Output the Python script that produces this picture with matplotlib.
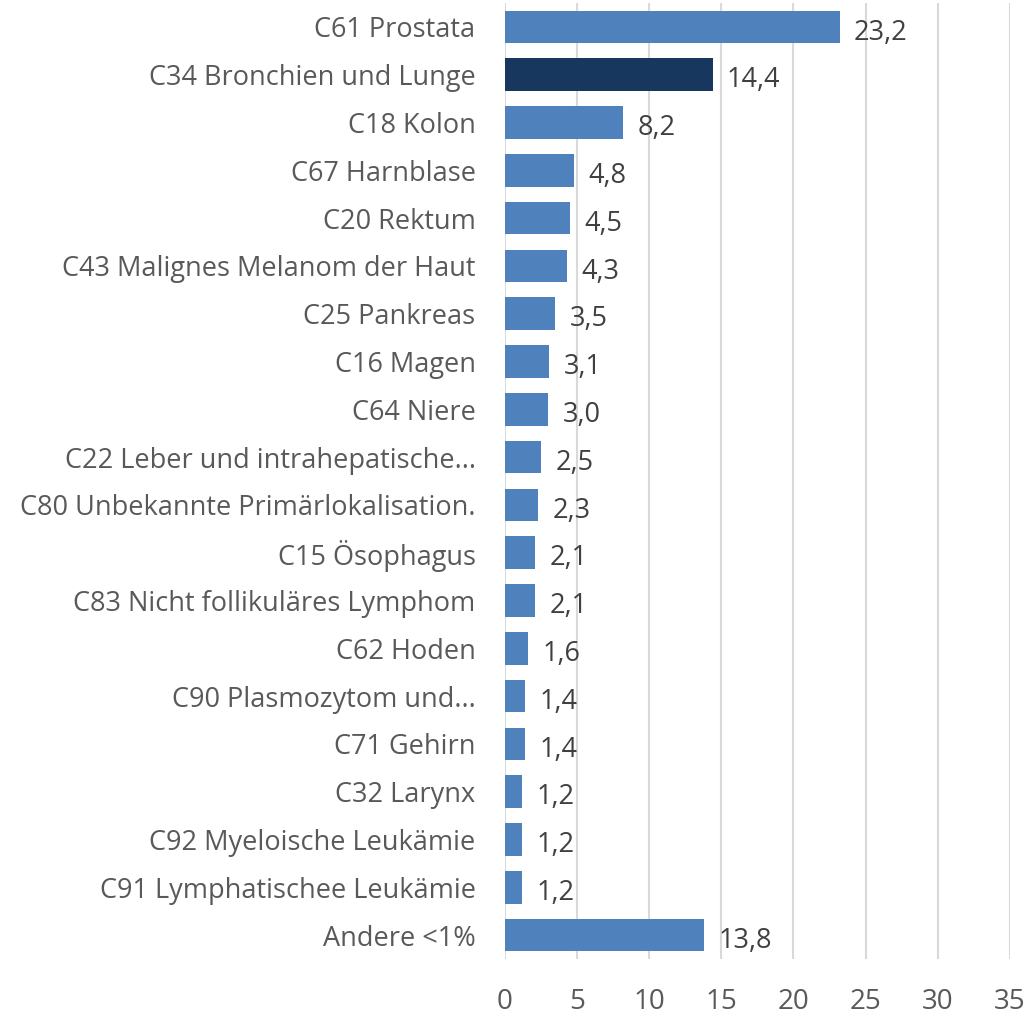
import matplotlib.pyplot as plt

# Data (share in %)
categories = [
    "C61 Prostata",
    "C34 Bronchien und Lunge",
    "C18 Kolon",
    "C67 Harnblase",
    "C20 Rektum",
    "C43 Malignes Melanom der Haut",
    "C25 Pankreas",
    "C16 Magen",
    "C64 Niere",
    "C22 Leber und intrahepatische...",
    "C80 Unbekannte Primärlokalisation.",
    "C15 Ösophagus",
    "C83 Nicht follikuläres Lymphom",
    "C62 Hoden",
    "C90 Plasmozytom und...",
    "C71 Gehirn",
    "C32 Larynx",
    "C92 Myeloische Leukämie",
    "C91 Lymphatischee Leukämie",
    "Andere <1%",
]
values = [23.2, 14.4, 8.2, 4.8, 4.5, 4.3, 3.5, 3.1, 3.0, 2.5,
          2.3, 2.1, 2.1, 1.6, 1.4, 1.4, 1.2, 1.2, 1.2, 13.8]
highlight = "C34 Bronchien und Lunge"
x_ticks = [0, 5, 10, 15, 20, 25, 30, 35]

plt.rcParams['font.family'] = ['Open Sans', 'DejaVu Sans']

fig = plt.figure(figsize=(10.28, 10.17), dpi=100)
ax = fig.add_axes([0.491, 0.057, 0.4915, 0.940])

colors = ['#17375e' if c == highlight else '#4f81bd' for c in categories]
pos = list(range(len(categories)))
ax.barh(pos, values, height=0.68, color=colors, zorder=3)

for y, v in zip(pos, values):
    ax.text(v + 1.0, y + 0.12, f"{v:.1f}".replace('.', ','), va='center', ha='left',
            fontsize=19.5, color='#404040')

ax.set_ylim(len(categories) - 0.5, -0.5)
ax.set_xlim(0, 35)
ax.set_yticks(pos)
ax.set_yticklabels(categories, fontsize=19.5, color='#595959')
ax.set_xticks(x_ticks)
ax.set_xticklabels([str(t) for t in x_ticks], fontsize=20, color='#595959')
ax.tick_params(axis='y', length=0, pad=21)
ax.tick_params(axis='x', length=0, pad=21)
ax.grid(axis='x', color='#d9d9d9', linewidth=1.5, zorder=0)
for s in ax.spines.values():
    s.set_visible(False)

fig.savefig("out.png", dpi=100)
